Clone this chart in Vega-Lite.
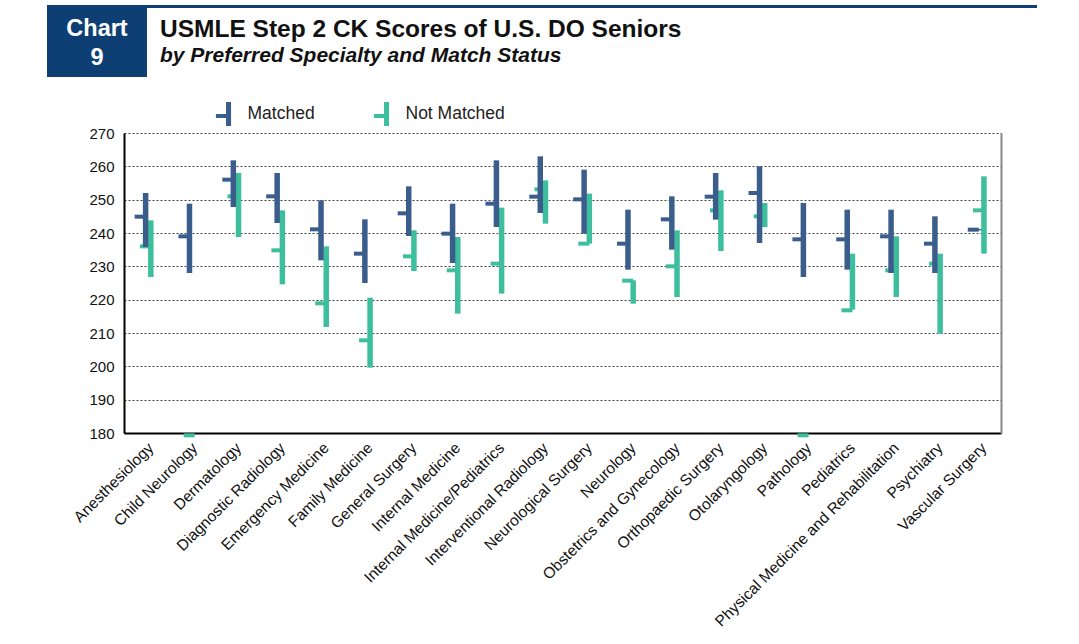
{
  "$schema": "https://vega.github.io/schema/vega-lite/v6.json",
  "background": "white",
  "padding": {"left": 47, "top": 5, "right": 5, "bottom": 5},
  "config": {"font": "Liberation Sans"},
  "spacing": 25,
  "resolve": {"scale": {"color": "independent"}, "legend": {"color": "independent"}},
  "vconcat": [
    {
      "spacing": 0,
      "hconcat": [
        {
          "width": 100,
          "height": 72,
          "view": {"fill": "#0E3F74", "stroke": null},
          "data": {"values": [{"t": "Chart 9"}]},
          "mark": {"type": "text", "color": "white", "fontSize": 23.5, "fontWeight": "bold", "lineHeight": 29, "dy": -12, "font": "Liberation Sans"},
          "encoding": {"text": {"value": ["Chart", "9"]}}
        },
        {
          "width": 890,
          "height": 3,
          "view": {"fill": "#0E3F74", "stroke": null},
          "title": {
            "text": "USMLE Step 2 CK Scores of U.S. DO Seniors",
            "subtitle": "by Preferred Specialty and Match Status",
            "orient": "bottom",
            "anchor": "start",
            "frame": "group",
            "dx": 13,
            "offset": 0,
            "fontSize": 24.5,
            "fontWeight": "bold",
            "color": "#111111",
            "subtitleFontSize": 21,
            "subtitleFontStyle": "italic",
            "subtitleFontWeight": "bold",
            "subtitleColor": "#111111",
            "subtitlePadding": 3
          },
          "data": {"values": [{"t": ""}]},
          "mark": {"type": "text", "baseline": "top"},
          "encoding": {"text": {"field": "t"}}
        }
      ]
    },
    {
      "width": 954,
      "height": 300,
      "view": {"stroke": null},
      "resolve": {"axis": {"y": "independent"}},
      "data": {
        "values": [
          {"specialty": "Anesthesiology", "status": "Matched", "lo": 235.8, "hi": 252.0, "mean": 244.9},
          {"specialty": "Anesthesiology", "status": "Not Matched", "lo": 226.8, "hi": 243.8, "mean": 236.0},
          {"specialty": "Child Neurology", "status": "Matched", "lo": 228.0, "hi": 248.8, "mean": 239.0},
          {"specialty": "Child Neurology", "status": "Not Matched", "lo": null, "hi": null, "mean": 179.3},
          {"specialty": "Dermatology", "status": "Matched", "lo": 247.8, "hi": 261.8, "mean": 256.0},
          {"specialty": "Dermatology", "status": "Not Matched", "lo": 238.8, "hi": 258.0, "mean": 251.0},
          {"specialty": "Diagnostic Radiology", "status": "Matched", "lo": 243.0, "hi": 258.0, "mean": 251.0},
          {"specialty": "Diagnostic Radiology", "status": "Not Matched", "lo": 224.6, "hi": 246.8, "mean": 234.8},
          {"specialty": "Emergency Medicine", "status": "Matched", "lo": 231.8, "hi": 249.8, "mean": 241.1},
          {"specialty": "Emergency Medicine", "status": "Not Matched", "lo": 211.8, "hi": 236.0, "mean": 218.9},
          {"specialty": "Family Medicine", "status": "Matched", "lo": 225.0, "hi": 244.1, "mean": 233.8},
          {"specialty": "Family Medicine", "status": "Not Matched", "lo": 199.6, "hi": 220.6, "mean": 207.8},
          {"specialty": "General Surgery", "status": "Matched", "lo": 239.1, "hi": 254.0, "mean": 245.9},
          {"specialty": "General Surgery", "status": "Not Matched", "lo": 228.6, "hi": 240.8, "mean": 233.0},
          {"specialty": "Internal Medicine", "status": "Matched", "lo": 231.0, "hi": 248.8, "mean": 239.8},
          {"specialty": "Internal Medicine", "status": "Not Matched", "lo": 215.8, "hi": 238.8, "mean": 228.8},
          {"specialty": "Internal Medicine/Pediatrics", "status": "Matched", "lo": 241.8, "hi": 261.8, "mean": 248.8},
          {"specialty": "Internal Medicine/Pediatrics", "status": "Not Matched", "lo": 221.8, "hi": 247.6, "mean": 230.8},
          {"specialty": "Interventional Radiology", "status": "Matched", "lo": 246.0, "hi": 263.0, "mean": 250.9},
          {"specialty": "Interventional Radiology", "status": "Not Matched", "lo": 242.8, "hi": 255.8, "mean": 253.1},
          {"specialty": "Neurological Surgery", "status": "Matched", "lo": 239.8, "hi": 259.0, "mean": 250.1},
          {"specialty": "Neurological Surgery", "status": "Not Matched", "lo": 236.8, "hi": 251.8, "mean": 236.8},
          {"specialty": "Neurology", "status": "Matched", "lo": 229.0, "hi": 247.0, "mean": 236.8},
          {"specialty": "Neurology", "status": "Not Matched", "lo": 218.8, "hi": 225.8, "mean": 225.7},
          {"specialty": "Obstetrics and Gynecology", "status": "Matched", "lo": 235.0, "hi": 251.0, "mean": 244.1},
          {"specialty": "Obstetrics and Gynecology", "status": "Not Matched", "lo": 220.8, "hi": 240.8, "mean": 230.0},
          {"specialty": "Orthopaedic Surgery", "status": "Matched", "lo": 244.0, "hi": 258.0, "mean": 250.9},
          {"specialty": "Orthopaedic Surgery", "status": "Not Matched", "lo": 234.6, "hi": 252.8, "mean": 246.8},
          {"specialty": "Otolaryngology", "status": "Matched", "lo": 237.0, "hi": 260.0, "mean": 252.0},
          {"specialty": "Otolaryngology", "status": "Not Matched", "lo": 241.8, "hi": 249.0, "mean": 245.0},
          {"specialty": "Pathology", "status": "Matched", "lo": 226.8, "hi": 249.0, "mean": 238.1},
          {"specialty": "Pathology", "status": "Not Matched", "lo": null, "hi": null, "mean": 179.3},
          {"specialty": "Pediatrics", "status": "Matched", "lo": 229.0, "hi": 247.0, "mean": 238.1},
          {"specialty": "Pediatrics", "status": "Not Matched", "lo": 217.0, "hi": 233.8, "mean": 216.8},
          {"specialty": "Physical Medicine and Rehabilitation", "status": "Matched", "lo": 228.0, "hi": 247.0, "mean": 239.0},
          {"specialty": "Physical Medicine and Rehabilitation", "status": "Not Matched", "lo": 220.8, "hi": 239.0, "mean": 228.8},
          {"specialty": "Psychiatry", "status": "Matched", "lo": 228.0, "hi": 245.0, "mean": 236.8},
          {"specialty": "Psychiatry", "status": "Not Matched", "lo": 209.8, "hi": 233.8, "mean": 230.8},
          {"specialty": "Vascular Surgery", "status": "Matched", "lo": 240.8, "hi": 241.2, "mean": 241.0},
          {"specialty": "Vascular Surgery", "status": "Not Matched", "lo": 233.8, "hi": 257.0, "mean": 246.8}
        ]
      },
      "encoding": {
        "x": {
          "field": "specialty",
          "type": "nominal",
          "sort": ["Anesthesiology", "Child Neurology", "Dermatology", "Diagnostic Radiology", "Emergency Medicine", "Family Medicine", "General Surgery", "Internal Medicine", "Internal Medicine/Pediatrics", "Interventional Radiology", "Neurological Surgery", "Neurology", "Obstetrics and Gynecology", "Orthopaedic Surgery", "Otolaryngology", "Pathology", "Pediatrics", "Physical Medicine and Rehabilitation", "Psychiatry", "Vascular Surgery"],
          "scale": {"paddingInner": 0, "paddingOuter": 0, "range": [77, 954]},
          "axis": {
            "title": null,
            "labelAngle": -45,
            "labelFontSize": 15.5,
            "labelColor": "#111111",
            "labelLimit": 400,
            "labelPadding": 7,
            "ticks": false,
            "domainColor": "#000000",
            "domainWidth": 2,
            "grid": false
          }
        },
        "color": {
          "field": "status",
          "type": "nominal",
          "scale": {"domain": ["Matched", "Not Matched"], "range": ["#3B5D8C", "#3DBE9D"]},
          "legend": {
            "title": null,
            "orient": "none",
            "legendX": 164.5,
            "legendY": -31,
            "direction": "horizontal",
            "padding": 0,
            "labelFontSize": 17.5,
            "labelColor": "#222222",
            "labelOffset": 12,
            "columnPadding": 54,
            "symbolType": "M0.21,-1H0.63V1H0.21V0.33H-0.63V0H0.21Z",
            "symbolSize": 576,
            "symbolStrokeWidth": 0,
            "encode": {
              "symbols": {
                "update": {
                  "fill": {"scale": "color", "field": "value"},
                  "stroke": {"value": "transparent"},
                  "strokeWidth": {"value": 0},
                  "opacity": {"value": 1}
                }
              }
            }
          }
        }
      },
      "layer": [
        {
          "transform": [{"filter": "datum.status === 'Not Matched'"}],
          "mark": {"type": "rule", "strokeWidth": 5.5, "xOffset": 4.9},
          "encoding": {
            "y": {
              "field": "lo",
              "type": "quantitative",
              "scale": {"domain": [180, 270], "nice": false, "zero": false},
              "axis": {"title": null, "offset": -77, "values": [180, 190, 200, 210, 220, 230, 240, 250, 260, 270], "labelFontSize": 15, "labelColor": "#111111", "labelPadding": 10, "labelOverlap": false, "ticks": false, "domainColor": "#000000", "domainWidth": 2, "grid": true, "gridColor": "#444444", "gridDash": [2, 2], "gridWidth": 1}
            },
            "y2": {"field": "hi"}
          }
        },
        {
          "transform": [{"filter": "datum.status === 'Not Matched'"}],
          "mark": {"type": "tick", "orient": "horizontal", "size": 11, "thickness": 4, "xOffset": -0.6, "opacity": 1},
          "encoding": {
            "y": {"field": "mean", "type": "quantitative", "scale": {"domain": [180, 270], "nice": false, "zero": false}, "axis": null}
          }
        },
        {
          "transform": [{"filter": "datum.status === 'Matched'"}],
          "mark": {"type": "rule", "strokeWidth": 5.5, "xOffset": -0.3},
          "encoding": {
            "y": {"field": "lo", "type": "quantitative", "scale": {"domain": [180, 270], "nice": false, "zero": false}, "axis": null},
            "y2": {"field": "hi"}
          }
        },
        {
          "transform": [{"filter": "datum.status === 'Matched'"}],
          "mark": {"type": "tick", "orient": "horizontal", "size": 11, "thickness": 4, "xOffset": -5.8, "opacity": 1},
          "encoding": {
            "y": {
              "field": "mean",
              "type": "quantitative",
              "scale": {"domain": [180, 270], "nice": false, "zero": false},
              "axis": {"orient": "right", "title": null, "labels": false, "ticks": false, "grid": false, "domainColor": "#888888", "domainWidth": 2}
            }
          }
        }
      ]
    }
  ]
}
